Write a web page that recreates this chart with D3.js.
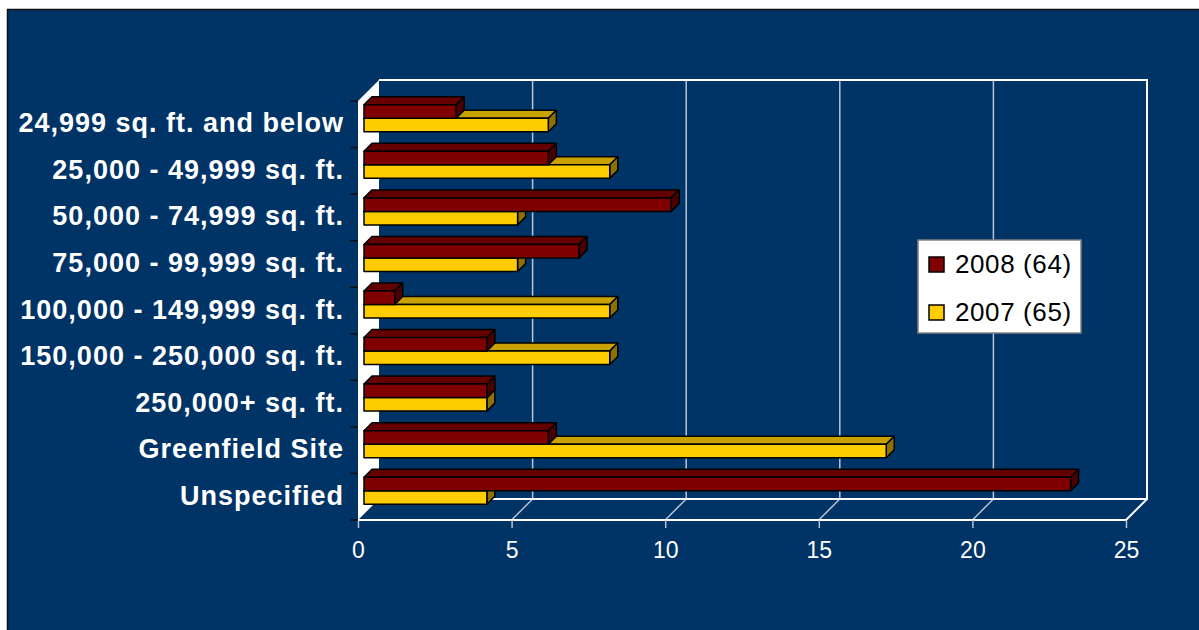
<!DOCTYPE html>
<html>
<head>
<meta charset="utf-8">
<script src="https://cdn.jsdelivr.net/npm/d3@7"></script>
<style>
  body { margin: 0; background: #fff; }
  text { font-family: "Liberation Sans", Arial, sans-serif; }
</style>
</head>
<body>
<script>
var categories = [
    '24,999 sq. ft. and below',
    '25,000 - 49,999 sq. ft.',
    '50,000 - 74,999 sq. ft.',
    '75,000 - 99,999 sq. ft.',
    '100,000 - 149,999 sq. ft.',
    '150,000 - 250,000 sq. ft.',
    '250,000+ sq. ft.',
    'Greenfield Site',
    'Unspecified'
];
var values2008 = [3, 6, 10, 7, 1, 4, 4, 6, 23];
var values2007 = [6, 8, 5, 5, 8, 8, 4, 17, 4];
var seriesNames = ['2008 (64)', '2007 (65)'];
var xTicks = [0, 5, 10, 15, 20, 25];

var WIDTH = 1199;
var HEIGHT = 630;
var BG = '#003366';
var DEPTH = 21;      // wall depth
var BAR_OFFSET = 6;  // bar front plane depth
var BAR_DEPTH = 8;   // bar thickness in depth

var colors = {
    '2008 (64)': {front: '#800000', top: '#650000', side: '#4a0000'},
    '2007 (65)': {front: '#FFCC00', top: '#C9A200', side: '#8C7200'}
};

var svg = d3.select('body').append('svg')
    .attr('width', WIDTH)
    .attr('height', HEIGHT);

svg.append('rect')
    .attr('x', 7.5).attr('y', 9.5)
    .attr('width', WIDTH).attr('height', HEIGHT)
    .attr('fill', BG)
    .attr('stroke', '#111')
    .attr('stroke-width', 1.5);

var x = d3.scaleLinear().domain([0, 25]).range([358, 1126]);
var y = d3.scaleBand().domain(categories).range([101, 520]);
var ySeries = d3.scaleBand().domain(seriesNames)
    .range([0, y.bandwidth()]).paddingOuter(0.724);

function pt(px, py, d){ return [px + d, py - d]; }
function poly(points){ return points.map(function(p){ return p.join(','); }).join(' '); }

var y0 = y.range()[0], y1 = y.range()[1];

// left side wall
svg.append('polygon')
    .attr('points', poly([pt(x(0), y0, 0), pt(x(0), y0, DEPTH), pt(x(0), y1, DEPTH), pt(x(0), y1, 0)]))
    .attr('fill', 'white');

// gridlines on back wall and floor
var grid = svg.append('g').attr('class', 'grid');
grid.selectAll('.gl-back').data(xTicks.slice(1, -1)).enter()
    .append('line')
    .attr('x1', function(d){ return x(d) + DEPTH; })
    .attr('x2', function(d){ return x(d) + DEPTH; })
    .attr('y1', y0 - DEPTH)
    .attr('y2', y1 - DEPTH)
    .attr('stroke', '#b9c3d3')
    .attr('stroke-width', 1.5);
grid.selectAll('.gl-floor').data(xTicks.slice(1, -1)).enter()
    .append('line')
    .attr('x1', function(d){ return x(d) + DEPTH; })
    .attr('x2', function(d){ return x(d); })
    .attr('y1', y1 - DEPTH)
    .attr('y2', y1)
    .attr('stroke', '#b9c3d3')
    .attr('stroke-width', 1.5);

// back wall and floor outlines
var frame = svg.append('g')
    .attr('stroke', 'white')
    .attr('stroke-width', 2)
    .attr('fill', 'none');
frame.append('polyline')
    .attr('points', poly([pt(x(0), y0, DEPTH), pt(x(25), y0, DEPTH), pt(x(25), y1, DEPTH), pt(x(0), y1, DEPTH)]));
frame.append('polyline')
    .attr('points', poly([pt(x(25), y1, DEPTH), pt(x(25), y1, 0), pt(x(0), y1, 0)]));

// bars
var rows = categories.map(function(c, i){
    return {cat: c, vals: [
        {name: seriesNames[0], value: values2008[i]},
        {name: seriesNames[1], value: values2007[i]}
    ]};
});

var bars = svg.selectAll('.cat').data(rows).enter()
    .append('g')
    .attr('class', 'cat');

bars.each(function(row){
    var g = d3.select(this);
    // draw the lower bar first so the upper one overlaps it
    row.vals.slice().reverse().forEach(function(s){
        var c = colors[s.name];
        var top = y(row.cat) + ySeries(s.name);
        var bot = top + ySeries.bandwidth();
        var xa = x(0), xb = x(s.value);
        var d = BAR_OFFSET, e = BAR_OFFSET + BAR_DEPTH;
        var bg = g.append('g')
            .attr('stroke', '#000')
            .attr('stroke-width', 1.5)
            .attr('stroke-linejoin', 'round');
        bg.append('polygon')
            .attr('points', poly([pt(xa, top, d), pt(xb, top, d), pt(xb, top, e), pt(xa, top, e)]))
            .attr('fill', c.top);
        bg.append('polygon')
            .attr('points', poly([pt(xb, top, d), pt(xb, top, e), pt(xb, bot, e), pt(xb, bot, d)]))
            .attr('fill', c.side);
        bg.append('polygon')
            .attr('points', poly([pt(xa, top, d), pt(xb, top, d), pt(xb, bot, d), pt(xa, bot, d)]))
            .attr('fill', c.front);
    });
});

// category axis
var yAxis = svg.append('g')
    .attr('transform', 'translate(' + (x(0) - 14) + ',0)')
    .call(d3.axisLeft(y).tickSize(0).tickPadding(0));
yAxis.select('.domain').remove();
yAxis.selectAll('text')
    .attr('fill', 'white')
    .attr('font-size', 27)
    .attr('font-weight', 'bold')
    .attr('letter-spacing', 1)
    .attr('dy', '0.3em')
    .style('font-family', '"Liberation Sans", Arial, sans-serif');

var boundaries = categories.map(function(c){ return y(c); }).concat([y1]);
svg.selectAll('.ytick').data(boundaries).enter()
    .append('line')
    .attr('x1', x(0) - 8).attr('x2', x(0))
    .attr('y1', function(d){ return d; })
    .attr('y2', function(d){ return d; })
    .attr('stroke', '#111')
    .attr('stroke-width', 1.5);

// value axis
var xAxis = svg.append('g')
    .attr('transform', 'translate(0,' + y1 + ')')
    .call(d3.axisBottom(x).tickValues(xTicks).tickSize(8).tickPadding(14).tickSizeOuter(0));
xAxis.select('.domain').remove();
xAxis.selectAll('line').attr('stroke', '#b9c3d3').attr('stroke-width', 1.5);
xAxis.selectAll('text')
    .attr('fill', 'white')
    .attr('font-size', 23)
    .style('font-family', '"Liberation Sans", Arial, sans-serif');

// legend
var legend = svg.append('g').attr('transform', 'translate(918,240)');
legend.append('rect')
    .attr('width', 163).attr('height', 93)
    .attr('fill', 'white')
    .attr('stroke', '#808080')
    .attr('stroke-width', 1.5);
var items = legend.selectAll('.item').data(seriesNames).enter()
    .append('g')
    .attr('transform', function(d, i){ return 'translate(11,' + (17 + i * 48) + ')'; });
items.append('rect')
    .attr('width', 15).attr('height', 15)
    .attr('fill', function(d){ return colors[d].front; })
    .attr('stroke', '#000')
    .attr('stroke-width', 1.5);
items.append('text')
    .attr('x', 26).attr('y', 16)
    .attr('font-size', 26)
    .attr('letter-spacing', 0.6)
    .attr('fill', '#000')
    .text(function(d){ return d; });
</script>
</body>
</html>
